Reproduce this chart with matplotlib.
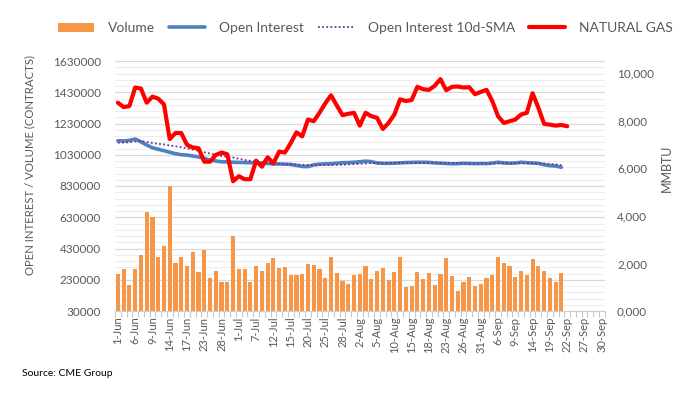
import matplotlib
matplotlib.use("Agg")
import matplotlib.pyplot as plt
from matplotlib.ticker import FixedLocator, FuncFormatter
from matplotlib.lines import Line2D
from matplotlib.patches import Patch

# ---- data ----
dates = (
    ["1-Jun", "2-Jun", "3-Jun", "6-Jun", "7-Jun", "8-Jun", "9-Jun", "10-Jun", "13-Jun", "14-Jun",
     "15-Jun", "16-Jun", "17-Jun", "21-Jun", "22-Jun", "23-Jun", "24-Jun", "27-Jun", "28-Jun",
     "29-Jun", "30-Jun"]
    + ["1-Jul", "5-Jul", "6-Jul", "7-Jul", "8-Jul", "11-Jul", "12-Jul", "13-Jul", "14-Jul", "15-Jul",
       "18-Jul", "19-Jul", "20-Jul", "21-Jul", "22-Jul", "25-Jul", "26-Jul", "27-Jul", "28-Jul", "29-Jul"]
    + ["1-Aug", "2-Aug", "3-Aug", "4-Aug", "5-Aug", "8-Aug", "9-Aug", "10-Aug", "11-Aug", "12-Aug",
       "15-Aug", "16-Aug", "17-Aug", "18-Aug", "19-Aug", "22-Aug", "23-Aug", "24-Aug", "25-Aug",
       "26-Aug", "29-Aug", "30-Aug", "31-Aug"]
    + ["1-Sep", "2-Sep", "6-Sep", "7-Sep", "8-Sep", "9-Sep", "12-Sep", "13-Sep", "14-Sep", "15-Sep",
       "16-Sep", "19-Sep", "20-Sep", "21-Sep", "22-Sep", "23-Sep", "26-Sep", "27-Sep", "28-Sep",
       "29-Sep", "30-Sep"]
)

volume = [265, 297, 196, 297, 386, 664, 630, 374, 444, 828,
          335, 374, 316, 406, 278, 418, 239, 284, 214, 214,
          508, 297, 297, 214, 316, 284, 335, 367, 303, 310,
          258, 258, 265, 329, 322, 297, 239, 374, 271, 220,
          201, 258, 265, 316, 233, 284, 303, 226, 278, 374,
          182, 188, 278, 233, 271, 196, 265, 367, 252, 156,
          214, 246, 188, 201, 239, 258, 374, 335, 316, 246,
          284, 258, 361, 316, 284, 239, 214, 271]
volume = [v * 1000 for v in volume]

open_interest = [1120, 1118, 1122, 1131, 1113, 1092, 1075, 1065, 1056, 1046,
                 1037, 1030, 1028, 1022, 1016, 1007, 996, 990, 985, 984,
                 982, 981, 980, 979, 978, 977, 974, 971, 971, 970,
                 968, 962, 955, 954, 965, 970, 972, 973, 976, 979,
                 980, 982, 985, 989, 986, 977, 975, 975, 976, 978,
                 980, 981, 982, 982, 981, 978, 976, 974, 972, 973,
                 975, 974, 973, 974, 973, 977, 982, 978, 976, 977,
                 982, 979, 977, 975, 966, 960, 958, 950]
open_interest = [v * 1000 for v in open_interest]

oi_sma = [1107, 1108, 1110, 1115, 1118, 1112, 1105, 1100, 1096, 1090,
          1084, 1078, 1071, 1063, 1055, 1046, 1038, 1030, 1022, 1017,
          1012, 1004, 997, 991, 986, 981, 976, 973, 971, 969,
          968, 967, 966, 965, 964, 964, 964, 964, 965, 966,
          968, 970, 972, 974, 976, 977, 978, 978, 978, 978,
          978, 978, 978, 978, 978, 978, 978, 977, 977, 976,
          975, 975, 975, 975, 975, 975, 975, 975, 975, 976,
          976, 977, 977, 976, 974, 971, 968, 964]
oi_sma = [v * 1000 for v in oi_sma]

nat_gas = [8766, 8581, 8624, 9404, 9361, 8766, 9021, 8936, 8695, 7234,
           7489, 7489, 6992, 6880, 6851, 6284, 6284, 6567, 6667, 6595,
           5460, 5673, 5545, 5545, 6327, 6072, 6468, 6212, 6709, 6667,
           7063, 7518, 7348, 8056, 7986, 8340, 8737, 9077, 8652, 8241,
           8298, 8340, 7800, 8340, 8199, 8127, 7659, 7914, 8269, 8907,
           8837, 8880, 9433, 9333, 9305, 9476, 9757, 9290, 9433, 9446,
           9404, 9418, 9120, 9220, 9305, 8837, 8199, 7914, 7986, 8056,
           8269, 8340, 9163, 8553, 7872, 7843, 7800, 7829, 7773]

left_ticks = list(range(30000, 1630001, 200000))
left_minor = list(range(30000, 1630001, 40000))
right_ticks = [0, 2000, 4000, 6000, 8000, 10000]

# ---- style ----
FONT = ["Lato", "DejaVu Sans"]
plt.rcParams["font.family"] = FONT
GREY = "#595959"
C_VOL = "#F79646"
C_OI = "#4F81BD"
C_SMA = "#7030A0"
C_NG = "#FF0000"

fig = plt.figure(figsize=(7.0, 3.94), dpi=100)
ax = fig.add_axes([115 / 700, 1 - 311 / 394, 489.6 / 700, 250 / 394])

xs = list(range(len(volume)))
ax.bar(xs, volume, width=0.72, color=C_VOL, zorder=2)
ax.plot(range(len(open_interest)), open_interest, color=C_OI, lw=2.6,
        solid_capstyle="round", zorder=3)
ax.plot(range(len(oi_sma)), oi_sma, color=C_SMA, lw=1.3, ls=(0, (1, 1.3)), zorder=4)

ax.set_xlim(-0.5, len(dates) - 0.5)
ax.set_ylim(left_ticks[0], left_ticks[-1])
ax.yaxis.set_major_locator(FixedLocator(left_ticks))
ax.yaxis.set_minor_locator(FixedLocator(left_minor))
ax.yaxis.set_major_formatter(FuncFormatter(lambda v, p: f"{int(round(v))}"))
ax.set_axisbelow(True)
ax.grid(axis="y", which="major", color="#D9D9D9", lw=0.9, zorder=0)
ax.grid(axis="y", which="minor", color="#EEEEEE", lw=0.8, zorder=0)

label_idx = list(range(0, len(dates), 3))
ax.xaxis.set_major_locator(FixedLocator(label_idx))
ax.set_xticklabels([dates[i] for i in label_idx], rotation=90, fontsize=8, color=GREY)
ax.xaxis.set_minor_locator(FixedLocator([i - 0.5 for i in range(len(dates) + 1)]))
ax.tick_params(axis="x", which="major", length=0, pad=4)
ax.tick_params(axis="x", which="minor", length=4, color="#C8C8C8", width=0.8)
ax.tick_params(axis="y", which="both", length=0, labelsize=8.5, labelcolor=GREY, pad=10)

for s in ["top", "left", "right"]:
    ax.spines[s].set_visible(False)
ax.spines["bottom"].set_color("#D0D0D0")
ax.spines["bottom"].set_linewidth(0.8)

ax.set_ylabel("OPEN INTEREST / VOLUME (CONTRACTS)", fontsize=8.2, color=GREY)
ax.yaxis.set_label_coords((35 - 115) / 489.6, (311 - 165) / 250)

ax2 = ax.twinx()
ax2.plot(range(len(nat_gas)), nat_gas, color=C_NG, lw=3.0, solid_capstyle="round",
         solid_joinstyle="round", zorder=5)
ax2.set_ylim(0, 10520)
ax2.yaxis.set_major_locator(FixedLocator(right_ticks))
ax2.yaxis.set_major_formatter(FuncFormatter(lambda v, p: f"{int(v) // 1000},{int(v) % 1000:03d}"))
ax2.tick_params(axis="y", length=0, labelsize=8.5, labelcolor=GREY, pad=9)
for s in ["top", "left", "right", "bottom"]:
    ax2.spines[s].set_visible(False)
ax2.set_ylabel("MMBTU", fontsize=9, color=GREY)
ax2.yaxis.set_label_coords((661 - 115) / 489.6, 0.57)

handles = [
    Patch(facecolor=C_VOL, edgecolor="none"),
    Line2D([], [], color=C_OI, lw=2.6, solid_capstyle="round"),
    Line2D([], [], color=C_SMA, lw=1.3, ls=(0, (1, 1.3))),
    Line2D([], [], color=C_NG, lw=3.0, solid_capstyle="round"),
]
labels = ["Volume", "Open Interest", "Open Interest 10d-SMA", "NATURAL GAS"]
leg = fig.legend(handles, labels, loc="center", bbox_to_anchor=(0.522, 1 - 28 / 394),
                 ncol=4, frameon=False, fontsize=10, handlelength=2.6,
                 handletextpad=1.0, columnspacing=1.0, handleheight=0.6)
for t in leg.get_texts():
    t.set_color(GREY)

fig.text(22 / 700, 1 - 374 / 394, "Source: CME Group", fontsize=7.5, color="black",
         va="center", ha="left")

fig.savefig("out.png", dpi=100)
